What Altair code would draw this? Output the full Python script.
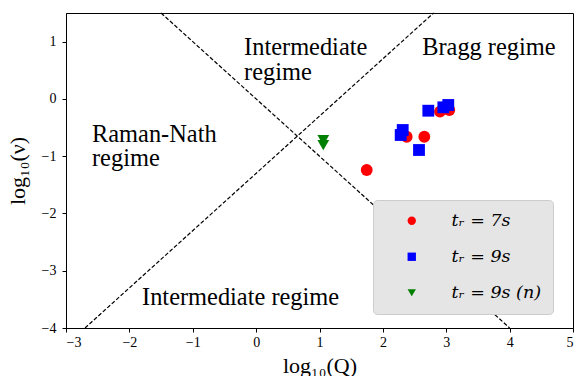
import altair as alt
import pandas as pd

# ---- data -----------------------------------------------------------------
series_names = ["tᵣ = 7s", "tᵣ = 9s", "tᵣ = 9s (n)"]
series_colors = ["#ff0000", "#0000ff", "#008000"]
series_shapes = ["circle", "square", "triangle-down"]

red_x = [1.745, 2.376, 2.654, 2.901, 3.048]
red_y = [-1.241, -0.66, -0.66, -0.223, -0.194]

blue_x = [2.717, 2.954, 3.032, 2.313, 2.281, 2.570]
blue_y = [-0.206, -0.147, -0.106, -0.543, -0.630, -0.892]

green_x = [1.06, 1.06]
green_y = [-0.718, -0.805]

# regime boundaries: log(nu) = -log(Q)  and  log(nu) = log(Q) - 1.3
bound1_x = [-1.5, 4.0]
bound2_x = [-2.7, 2.8]
bound2_offset = -1.3

x_ticks = [-3, -2, -1, 0, 1, 2, 3, 4, 5]
y_ticks = [-4, -3, -2, -1, 0, 1]

label_texts = ["Intermediate", "regime", "Bragg regime", "Raman-Nath", "regime",
               "Intermediate regime"]
label_x = [-0.19, -0.19, 2.62, -2.59, -2.59, -1.80]
label_y = [0.767, 0.33, 0.767, -0.75, -1.18, -3.60]

# ---- tables ---------------------------------------------------------------
rows = []
for name, xs, ys in zip(series_names, [red_x, blue_x, green_x], [red_y, blue_y, green_y]):
    for xv, yv in zip(xs, ys):
        rows.append({"Q": xv, "nu": yv, "series": name})
pts = pd.DataFrame(rows)
pts["idx"] = range(len(pts))

lines = pd.DataFrame(
    [{"Q": xv, "nu": -xv, "line": "a"} for xv in bound1_x]
    + [{"Q": xv, "nu": xv + bound2_offset, "line": "b"} for xv in bound2_x]
)

labels = pd.DataFrame({"Q": label_x, "nu": label_y, "text": label_texts})

FONT = "Liberation Serif"

xscale = alt.Scale(domain=[-3, 5], nice=False, zero=False)
yscale = alt.Scale(domain=[-4, 1.5], nice=False, zero=False)

xaxis = alt.Axis(values=x_ticks, title="log₁₀(Q)", format="d")
yaxis = alt.Axis(values=y_ticks, title="log₁₀(ν)", format="d")

line_layer = alt.Chart(lines).mark_line(
    color="black", strokeDash=[4, 2], strokeWidth=1.2
).encode(
    x=alt.X("Q:Q", scale=xscale, axis=xaxis),
    y=alt.Y("nu:Q", scale=yscale, axis=yaxis),
    detail="line:N",
)

text_layer = alt.Chart(labels).mark_text(
    align="left", baseline="alphabetic", font=FONT, fontSize=24.4, color="black"
).encode(
    x=alt.X("Q:Q", scale=xscale),
    y=alt.Y("nu:Q", scale=yscale),
    text="text:N",
)

point_layer = alt.Chart(pts).mark_point(filled=True, size=140, opacity=1).encode(
    x=alt.X("Q:Q", scale=xscale),
    y=alt.Y("nu:Q", scale=yscale),
    color=alt.Color(
        "series:N",
        scale=alt.Scale(domain=series_names, range=series_colors),
        title=None,
        legend=alt.Legend(
            orient="none", legendX=307, legendY=187,
            fillColor="#e5e5e5", strokeColor="#cccccc", cornerRadius=4,
            padding=12, labelFont="DejaVu Serif",
            labelFontSize=17.5, labelFontStyle="italic",
            labelColor="black", symbolSize=70, symbolOffset=18, labelOffset=31,
            rowPadding=17, symbolStrokeWidth=0,
        ),
    ),
    shape=alt.Shape(
        "series:N",
        scale=alt.Scale(domain=series_names, range=series_shapes),
        title=None,
    ),
    order=alt.Order("idx:Q"),
)

chart = alt.layer(line_layer, text_layer, point_layer).properties(
    width=507,
    height=315,
    autosize=alt.AutoSizeParams(type="none"),
    padding={"left": 66, "top": 13, "right": 1, "bottom": 48},
    background="white",
).configure_view(
    stroke="black", strokeWidth=1
).configure_axis(
    grid=False,
    domainColor="black",
    tickColor="black",
    tickSize=4,
    labelFont=FONT,
    labelFontSize=14,
    labelColor="black",
    titleFont=FONT,
    titleFontSize=22,
    titleFontWeight="normal",
    titleColor="black",
).configure_axisX(
    labelPadding=3, titlePadding=6
).configure_axisY(
    labelPadding=6, titlePadding=12
)

chart.save("out.html", embed_options={"renderer": "svg", "actions": False})
